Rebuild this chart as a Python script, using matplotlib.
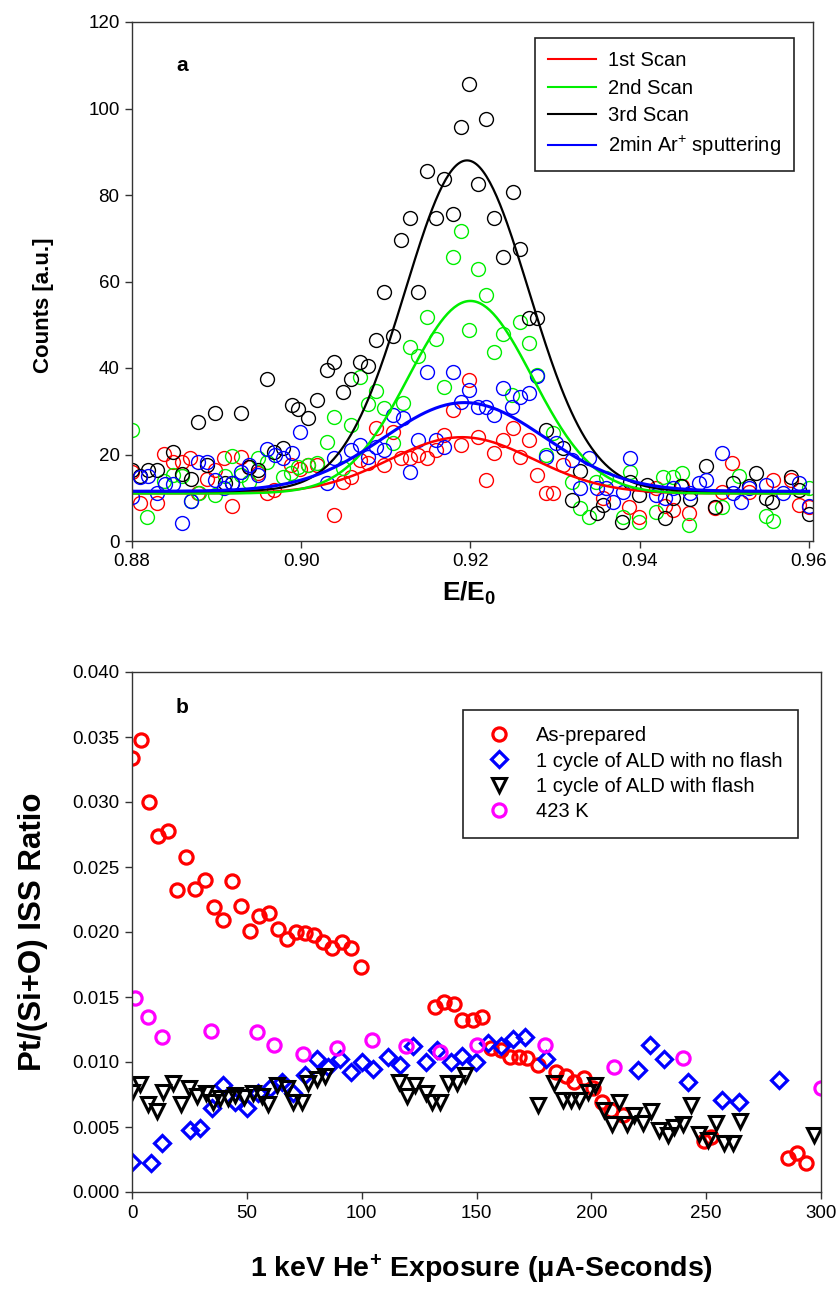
import numpy as np
import matplotlib
matplotlib.use('Agg')
import matplotlib.pyplot as plt

matplotlib.rcParams['font.family'] = 'Liberation Sans'
matplotlib.rcParams['mathtext.fontset'] = 'custom'
matplotlib.rcParams['mathtext.rm'] = 'Liberation Sans'
matplotlib.rcParams['mathtext.it'] = 'Liberation Sans'
matplotlib.rcParams['mathtext.bf'] = 'Liberation Sans:bold'

# ---------------- panel a : ISS spectra ----------------
scan1_x = [0.8800, 0.8809, 0.8830, 0.8838, 0.8849, 0.8859, 0.8869, 0.8878, 0.8889, 0.8898,
           0.8909, 0.8918, 0.8929, 0.8938, 0.8949, 0.8960, 0.8968, 0.8988, 0.8999, 0.9008,
           0.9019, 0.9039, 0.9049, 0.9059, 0.9069, 0.9079, 0.9089, 0.9098, 0.9109, 0.9118,
           0.9129, 0.9138, 0.9149, 0.9159, 0.9169, 0.9179, 0.9189, 0.9198, 0.9209, 0.9219,
           0.9228, 0.9239, 0.9250, 0.9259, 0.9269, 0.9279, 0.9289, 0.9298, 0.9310, 0.9357,
           0.9387, 0.9399, 0.9419, 0.9430, 0.9439, 0.9450, 0.9459, 0.9489, 0.9498, 0.9509,
           0.9529, 0.9558, 0.9579, 0.9588, 0.9600]
scan1_y = [16.0, 8.8, 8.8, 20.1, 18.3, 18.3, 19.2, 11.1, 14.3, 16.4,
           19.2, 8.1, 19.4, 17.1, 15.7, 11.1, 11.8, 17.6, 16.6, 17.6,
           17.6, 6.0, 13.6, 14.8, 18.7, 18.0, 26.1, 17.6, 25.2, 19.2,
           19.2, 19.9, 19.2, 21.0, 24.5, 30.3, 22.2, 37.2, 24.0, 14.1,
           20.3, 23.4, 26.1, 19.4, 23.4, 15.3, 11.1, 11.1, 17.6, 9.9,
           7.9, 5.5, 12.3, 8.1, 7.2, 12.7, 6.5, 7.6, 11.3, 18.0,
           11.3, 14.1, 14.1, 8.3, 7.9]

scan2_x = [0.8800, 0.8818, 0.8838, 0.8849, 0.8859, 0.8870, 0.8879, 0.8898, 0.8910, 0.8918,
           0.8929, 0.8938, 0.8949, 0.8960, 0.8979, 0.8988, 0.8996, 0.9008, 0.9019, 0.9030,
           0.9039, 0.9049, 0.9059, 0.9069, 0.9079, 0.9089, 0.9098, 0.9109, 0.9120, 0.9129,
           0.9138, 0.9149, 0.9159, 0.9169, 0.9179, 0.9189, 0.9198, 0.9209, 0.9219, 0.9228,
           0.9239, 0.9249, 0.9259, 0.9269, 0.9279, 0.9289, 0.9298, 0.9320, 0.9329, 0.9340,
           0.9349, 0.9360, 0.9380, 0.9389, 0.9399, 0.9419, 0.9428, 0.9439, 0.9450, 0.9458,
           0.9498, 0.9518, 0.9549, 0.9558, 0.9600]
scan2_y = [25.7, 5.5, 13.9, 15.3, 15.0, 9.2, 11.1, 10.6, 15.0, 19.7,
           15.3, 13.6, 19.2, 18.3, 14.8, 15.7, 17.1, 17.6, 18.0, 22.9,
           28.7, 16.9, 26.8, 37.9, 31.7, 34.7, 30.8, 22.7, 31.9, 44.9,
           42.8, 51.8, 46.7, 35.6, 65.7, 71.7, 48.8, 62.9, 56.9, 43.7,
           47.9, 33.8, 50.6, 45.8, 38.4, 19.9, 25.0, 13.6, 7.6, 5.5,
           13.6, 14.6, 5.5, 16.0, 4.4, 6.7, 14.8, 14.8, 15.7, 3.7,
           7.9, 15.0, 5.8, 4.6, 12.3]

scan3_x = [0.8800, 0.8809, 0.8819, 0.8830, 0.8849, 0.8859, 0.8870, 0.8878, 0.8889, 0.8898,
           0.8910, 0.8918, 0.8929, 0.8938, 0.8949, 0.8960, 0.8968, 0.8978, 0.8989, 0.8996,
           0.9008, 0.9019, 0.9030, 0.9039, 0.9049, 0.9059, 0.9069, 0.9079, 0.9089, 0.9098,
           0.9109, 0.9118, 0.9129, 0.9138, 0.9149, 0.9159, 0.9169, 0.9179, 0.9189, 0.9198,
           0.9209, 0.9219, 0.9228, 0.9239, 0.9250, 0.9259, 0.9269, 0.9279, 0.9289, 0.9310,
           0.9320, 0.9329, 0.9350, 0.9357, 0.9379, 0.9389, 0.9399, 0.9409, 0.9430, 0.9439,
           0.9449, 0.9460, 0.9479, 0.9489, 0.9510, 0.9529, 0.9538, 0.9549, 0.9557, 0.9579,
           0.9588, 0.9600]
scan3_y = [16.4, 15.0, 16.4, 16.4, 20.6, 15.5, 14.3, 27.5, 17.6, 29.6,
           13.4, 13.4, 29.6, 17.1, 16.4, 37.5, 20.6, 21.5, 31.4, 30.5,
           28.4, 32.6, 39.5, 41.4, 34.5, 37.5, 41.4, 40.5, 46.5, 57.6,
           47.4, 69.6, 74.7, 57.6, 85.5, 74.7, 83.7, 75.6, 95.7, 105.7,
           82.5, 97.6, 74.7, 65.7, 80.7, 67.5, 51.6, 51.6, 25.7, 21.5,
           9.5, 16.2, 6.5, 8.3, 4.4, 13.6, 10.6, 12.9, 5.3, 9.9,
           12.7, 9.7, 17.3, 7.9, 13.4, 12.7, 15.7, 9.9, 9.0, 14.8,
           11.8, 6.2]

sput_x = [0.8800, 0.8809, 0.8819, 0.8830, 0.8839, 0.8849, 0.8859, 0.8870, 0.8878, 0.8889,
          0.8898, 0.8909, 0.8918, 0.8929, 0.8938, 0.8949, 0.8960, 0.8969, 0.8979, 0.8989,
          0.8998, 0.9030, 0.9039, 0.9059, 0.9069, 0.9079, 0.9089, 0.9098, 0.9109, 0.9120,
          0.9129, 0.9138, 0.9149, 0.9159, 0.9169, 0.9179, 0.9189, 0.9198, 0.9209, 0.9219,
          0.9228, 0.9239, 0.9249, 0.9259, 0.9269, 0.9279, 0.9289, 0.9301, 0.9320, 0.9329,
          0.9340, 0.9350, 0.9360, 0.9369, 0.9380, 0.9389, 0.9419, 0.9430, 0.9439, 0.9460,
          0.9470, 0.9479, 0.9498, 0.9510, 0.9520, 0.9529, 0.9549, 0.9569, 0.9588, 0.9600]
sput_y = [10.2, 14.8, 15.0, 11.1, 13.2, 13.2, 4.2, 9.2, 18.3, 18.3,
          14.1, 12.3, 13.4, 16.0, 17.6, 15.3, 21.3, 19.9, 19.2, 20.3,
          25.2, 13.4, 19.2, 21.0, 22.2, 19.4, 21.7, 21.0, 29.1, 28.4,
          16.0, 23.4, 39.1, 23.4, 21.7, 39.1, 32.1, 34.9, 31.0, 31.0,
          29.1, 35.4, 31.0, 33.3, 34.2, 38.2, 19.4, 22.7, 18.7, 12.3,
          19.2, 12.3, 12.3, 9.0, 11.3, 19.2, 10.6, 9.9, 12.3, 11.1,
          13.4, 14.1, 20.3, 11.1, 9.0, 12.3, 12.9, 11.1, 13.4, 8.1]

# gaussian fit parameters: baseline, amplitude, centre, width
fit1 = (11.0, 13.0, 0.9190, 0.0085)
fit2 = (11.0, 44.5, 0.9200, 0.0073)
fit3 = (11.5, 76.5, 0.9196, 0.0073)
fit4 = (11.5, 20.5, 0.9193, 0.0095)

# ---------------- panel b : ISS ratio vs exposure ----------------
asprep_x = [0, 3.9, 7.4, 11.3, 15.7, 19.6, 23.5, 27.5, 31.8, 35.8,
            39.7, 43.6, 47.5, 51.5, 55.4, 59.7, 63.7, 67.6, 71.5, 75.4,
            79.4, 83.3, 87.2, 91.6, 95.5, 99.9, 132.1, 136.0, 140.0, 143.9,
            148.3, 152.2, 156.1, 160.5, 164.4, 168.3, 172.2, 176.6, 184.4, 188.8,
            192.3, 196.7, 200.6, 204.5, 208.4, 213.7, 249.0, 252.0, 285.6, 289.5,
            293.5]
asprep_y = [0.0334, 0.0348, 0.0300, 0.0274, 0.0278, 0.0232, 0.0258, 0.0233, 0.0240, 0.0219,
            0.0209, 0.0239, 0.0220, 0.0201, 0.0212, 0.0215, 0.0202, 0.0195, 0.0200, 0.0199,
            0.0198, 0.0192, 0.0188, 0.0192, 0.0188, 0.0173, 0.0142, 0.0146, 0.0145, 0.0132,
            0.0132, 0.0135, 0.0111, 0.0109, 0.0104, 0.0104, 0.0103, 0.0098, 0.0092, 0.0089,
            0.0085, 0.0088, 0.0080, 0.0069, 0.0063, 0.0059, 0.0039, 0.0042, 0.0026, 0.0030,
            0.0022]

noflash_x = [0, 8.3, 13.1, 25.3, 29.7, 34.9, 39.7, 44.9, 50.1, 54.9,
             60.2, 65.4, 70.2, 75.4, 80.7, 85.5, 90.7, 95.5, 100.3, 105.1,
             111.6, 116.9, 122.5, 127.8, 133.0, 138.7, 143.9, 149.6, 155.2, 160.5,
             165.7, 170.9, 180.1, 220.2, 225.4, 231.5, 242.0, 256.8, 264.2, 281.7]
noflash_y = [0.0023, 0.0022, 0.0038, 0.0048, 0.0049, 0.0065, 0.0082, 0.0069, 0.0065, 0.0076,
             0.0080, 0.0085, 0.0076, 0.0090, 0.0102, 0.0096, 0.0102, 0.0092, 0.0100, 0.0095,
             0.0104, 0.0098, 0.0112, 0.0100, 0.0109, 0.0100, 0.0105, 0.0100, 0.0115, 0.0112,
             0.0118, 0.0119, 0.0102, 0.0094, 0.0113, 0.0102, 0.0085, 0.0071, 0.0069, 0.0086]

flash_x = [0, 3.5, 7.0, 10.9, 13.5, 17.9, 21.4, 24.9, 28.3, 32.3,
           35.3, 38.4, 41.9, 44.9, 48.8, 52.8, 56.7, 59.3, 63.2, 67.6,
           70.2, 74.1, 76.7, 80.7, 84.2, 116.4, 119.9, 123.4, 127.8, 130.8,
           134.3, 137.8, 141.7, 144.8, 176.6, 183.6, 187.5, 191.0, 194.5, 198.4,
           201.5, 205.4, 208.9, 211.9, 215.4, 218.5, 222.4, 225.9, 229.4, 233.3,
           235.9, 239.8, 243.3, 246.8, 250.7, 254.2, 257.7, 261.6, 264.7, 297.0]
flash_y = [0.0077, 0.0083, 0.0068, 0.0062, 0.0077, 0.0084, 0.0068, 0.0080, 0.0074, 0.0076,
           0.0069, 0.0072, 0.0072, 0.0075, 0.0073, 0.0076, 0.0074, 0.0068, 0.0082, 0.0080,
           0.0069, 0.0069, 0.0084, 0.0087, 0.0089, 0.0085, 0.0074, 0.0082, 0.0076, 0.0069,
           0.0069, 0.0084, 0.0084, 0.0090, 0.0067, 0.0084, 0.0071, 0.0071, 0.0071, 0.0077,
           0.0082, 0.0063, 0.0052, 0.0069, 0.0052, 0.0059, 0.0053, 0.0062, 0.0048, 0.0044,
           0.0050, 0.0052, 0.0067, 0.0045, 0.0040, 0.0053, 0.0038, 0.0038, 0.0055, 0.0044]

k423_x = [1.3, 7.0, 13.1, 34.4, 54.5, 61.9, 74.6, 89.4, 104.7, 119.5,
          134.3, 150.0, 179.7, 209.7, 239.8, 300.0]
k423_y = [0.0149, 0.0135, 0.0119, 0.0124, 0.0123, 0.0113, 0.0106, 0.0111, 0.0117, 0.0112,
          0.0108, 0.0113, 0.0113, 0.0096, 0.0103, 0.0080]


def gauss(x, p):
    base, amp, x0, s = p
    return base + amp*np.exp(-(x - x0)**2/(2*s**2))


def style_axes(ax):
    for sp in ax.spines.values():
        sp.set_color('#333333')
        sp.set_linewidth(1.0)
    ax.tick_params(direction='out', length=5, width=1, labelsize=13.5,
                   top=False, right=False, color='#333333', pad=4)


fig = plt.figure(figsize=(8.38, 12.96), dpi=100)

# panel a
ax1 = fig.add_axes([132/838, 755/1296, 681/838, 519/1296])
mk = dict(ls='none', marker='o', ms=10, mfc='none', mew=1.0)
ax1.plot(scan1_x, scan1_y, mec='#ff0000', **mk)
ax1.plot(scan2_x, scan2_y, mec='#00ee00', **mk)
ax1.plot(scan3_x, scan3_y, mec='black', **mk)
ax1.plot(sput_x, sput_y, mec='#0000ff', **mk)

xf = np.linspace(0.88, 0.96, 400)
ax1.plot(xf, gauss(xf, fit1), color='#ff0000', lw=1.8, label='1st Scan')
ax1.plot(xf, gauss(xf, fit2), color='#00ee00', lw=1.8, label='2nd Scan')
ax1.plot(xf, gauss(xf, fit3), color='black', lw=1.6, label='3rd Scan')
ax1.plot(xf, gauss(xf, fit4), color='#0000ff', lw=2.2, label='2min Ar$^{+}$ sputtering')

ax1.set_xlim(0.88, 0.9605)
ax1.set_ylim(0, 120)
ax1.set_xticks([0.88, 0.90, 0.92, 0.94, 0.96])
ax1.set_xticklabels(['0.88', '0.90', '0.92', '0.94', '0.96'])
ax1.set_yticks(np.arange(0, 121, 20))
style_axes(ax1)
ax1.set_ylabel('Counts [a.u.]', fontsize=16, fontweight='bold')
ax1.yaxis.set_label_coords(-0.115, 0.455)
ax1.set_xlabel(r'E/E$_\mathbf{0}$', fontsize=19, fontweight='bold')
ax1.xaxis.set_label_coords(0.495, -0.075)
ax1.text(0.073, 0.917, 'a', transform=ax1.transAxes, fontsize=15,
         fontweight='bold', ha='center', va='center')
leg1 = ax1.legend(loc='upper right', bbox_to_anchor=(0.972, 0.969), fontsize=14.5,
                  frameon=True, fancybox=False, framealpha=1, edgecolor='#222222',
                  borderpad=0.65, handlelength=2.35, handletextpad=0.6,
                  labelspacing=0.42, borderaxespad=0)
leg1.get_frame().set_linewidth(1.2)
for ln in leg1.get_lines():
    ln.set_linewidth(1.5)

# panel b
ax2 = fig.add_axes([132/838, 104/1296, 689/838, 520/1296])
ax2.plot(asprep_x, asprep_y, ls='none', marker='o', ms=9.5, mfc='none', mec='#ff0000',
         mew=2.3, label='As-prepared')
ax2.plot(noflash_x, noflash_y, ls='none', marker='D', ms=8.2, mfc='none', mec='#0000ff',
         mew=2.3, label='1 cycle of ALD with no flash')
ax2.plot(flash_x, flash_y, ls='none', marker='v', ms=9.5, mfc='none', mec='black',
         mew=2.2, label='1 cycle of ALD with flash')
ax2.plot(k423_x, k423_y, ls='none', marker='o', ms=9.5, mfc='none', mec='#ff00ff',
         mew=2.3, label='423 K')

ax2.set_xlim(0, 300)
ax2.set_ylim(0, 0.040)
ax2.set_xticks(np.arange(0, 301, 50))
ax2.set_yticks(np.arange(0, 0.0401, 0.005))
ax2.set_yticklabels(['%.3f' % v for v in np.arange(0, 0.0401, 0.005)])
style_axes(ax2)
ax2.set_ylabel('Pt/(Si+O) ISS Ratio', fontsize=22.5, fontweight='bold')
ax2.yaxis.set_label_coords(-0.122, 0.5)
ax2.set_xlabel(r'1 keV He$^{\mathbf{+}}$ Exposure (μA-Seconds)', fontsize=20.5,
               fontweight='bold')
ax2.xaxis.set_label_coords(0.507, -0.117)
ax2.text(0.073, 0.931, 'b', transform=ax2.transAxes, fontsize=15,
         fontweight='bold', ha='center', va='center')
leg2 = ax2.legend(loc='upper right', bbox_to_anchor=(0.967, 0.927), fontsize=14.5,
                  frameon=True, fancybox=False, framealpha=1, edgecolor='#222222',
                  borderpad=0.8, handlelength=2.0, handletextpad=0.8,
                  labelspacing=0.32, borderaxespad=0, numpoints=1)
leg2.get_frame().set_linewidth(1.2)

fig.savefig('out.png', dpi=100)
